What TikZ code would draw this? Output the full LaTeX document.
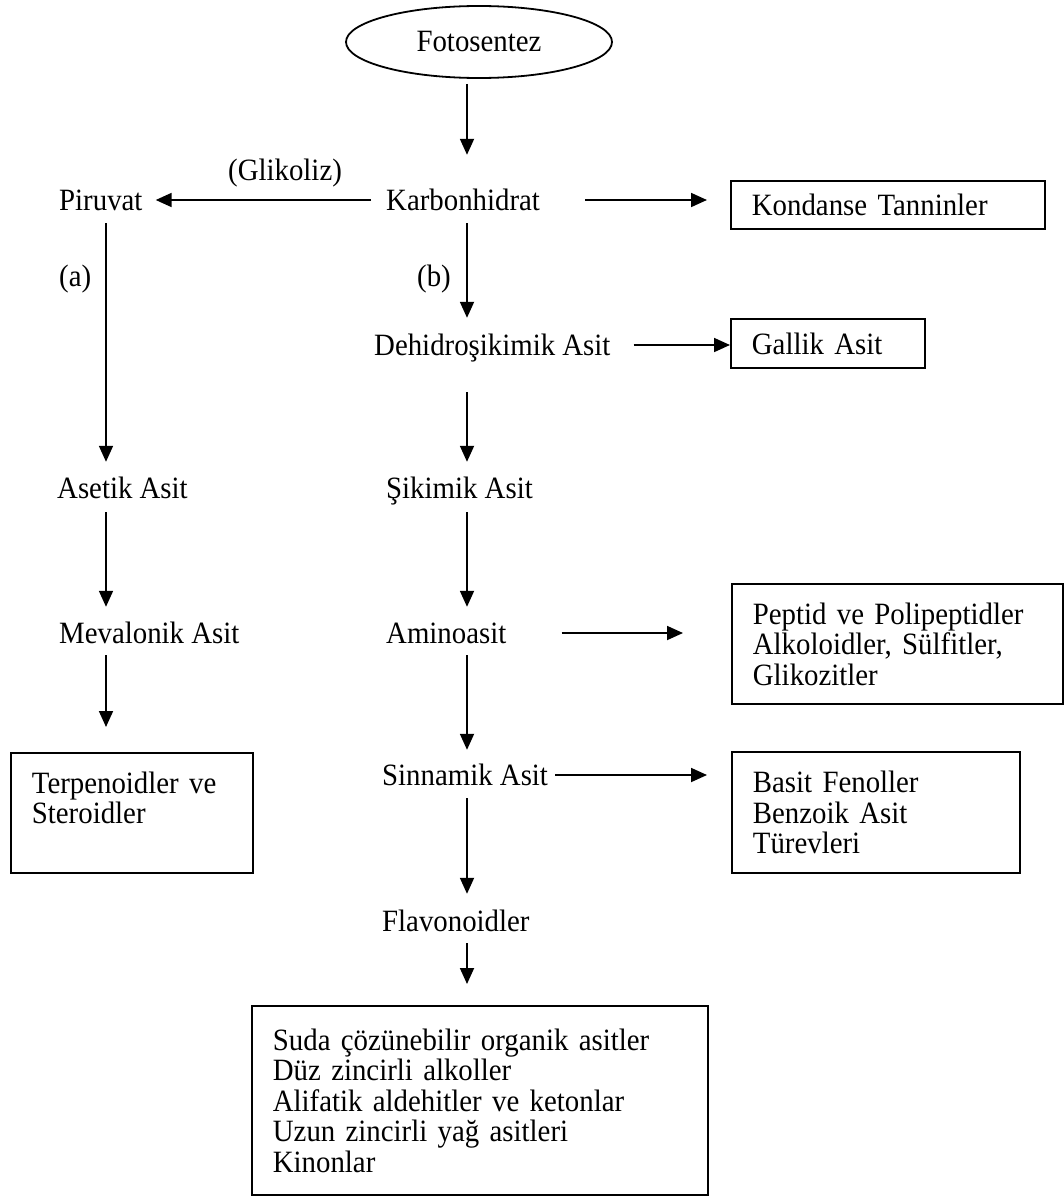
\documentclass[tikz,border=0pt]{standalone}
\usepackage{fontspec}
\setmainfont[FakeStretch=0.93]{Liberation Serif}
\usetikzlibrary{arrows.meta,shapes.geometric}
\begin{document}
\begin{tikzpicture}[x=1pt,y=-1pt,
  font=\fontsize{31}{30.5}\selectfont,
  lbl/.style={inner sep=0pt,text height=20pt,text depth=0pt,anchor=base west},
  boxn/.style={draw,line width=1.8pt,inner xsep=21pt,inner ysep=0pt,align=left,anchor=north west},
  arr/.style={line width=1.8pt,-{Triangle[length=16pt,width=14pt]}}]
\useasboundingbox (0,0) rectangle (1064,1196);
\coordinate (colL) at (106,0);
\coordinate (colC) at (467,0);
% nodes
\node[draw,ellipse,line width=1.8pt,minimum width=266pt,minimum height=72pt,inner sep=0pt] (foto) at (479,42) {Fotosentez};
\node[lbl] (glik) at (228,180) {(Glikoliz)};
\node[lbl] (pir) at (59,210) {Piruvat};
\node[lbl] (karb) at (386,210) {Karbonhidrat};
\node[lbl] (la) at (59,286) {(a)};
\node[lbl] (lb) at (417,286) {(b)};
\node[lbl] (dehi) at (374,355) {Dehidroşikimik Asit};
\node[lbl] (aset) at (57,498) {Asetik Asit};
\node[lbl] (siki) at (386,498) {Şikimik Asit};
\node[lbl] (meva) at (59,643) {Mevalonik Asit};
\node[lbl] (amino) at (386,643) {Aminoasit};
\node[lbl] (sinn) at (382,785) {Sinnamik Asit};
\node[lbl] (flav) at (382,931) {Flavonoidler};
% boxes
\node[boxn,text width=272pt,minimum height=48pt] (kond) at (730,180) {Kondanse Tanninler};
\node[boxn,text width=152pt,minimum height=49pt] (gal) at (730,318) {Gallik Asit};
\node[boxn,text width=289pt,minimum height=120pt] (pep) at (731,583) {Peptid ve Polipeptidler\\Alkoloidler, Sülfitler,\\Glikozitler};
\node[boxn,text width=246pt,minimum height=121pt] (basit) at (731,751) {Basit Fenoller\\Benzoik Asit\\Türevleri};
\node[boxn,text width=200pt,minimum height=120pt] (terp) at (10,752) {Terpenoidler ve\\Steroidler\\\mbox{}};
\node[boxn,text width=414pt,minimum height=189pt] (bot) at (251,1005) {Suda çözünebilir organik asitler\\Düz zincirli alkoller\\Alifatik aldehitler ve ketonlar\\Uzun zincirli yağ asitleri\\Kinonlar};
% vertical arrows, centre column
\draw[arr,shorten <=5pt,shorten >=35pt] (foto.south -| colC) -- (karb.north -| colC);
\draw[arr,shorten <=13pt,shorten >=17pt] (karb.south -| colC) -- (dehi.north -| colC);
\draw[arr,shorten <=37pt,shorten >=16pt] (dehi.south -| colC) -- (siki.north -| colC);
\draw[arr,shorten <=14pt,shorten >=16pt] (siki.south -| colC) -- (amino.north -| colC);
\draw[arr,shorten <=12pt,shorten >=15pt] (amino.south -| colC) -- (sinn.north -| colC);
\draw[arr,shorten <=13pt,shorten >=17pt] (sinn.south -| colC) -- (flav.north -| colC);
\draw[arr,shorten <=12pt,shorten >=21pt] (flav.south -| colC) -- (bot.north -| colC);
% vertical arrows, left column
\draw[arr,shorten <=13pt,shorten >=16pt] (pir.south -| colL) -- (aset.north -| colL);
\draw[arr,shorten <=14pt,shorten >=16pt] (aset.south -| colL) -- (meva.north -| colL);
\draw[arr,shorten <=12pt,shorten >=25pt] (meva.south -| colL) -- (terp.north -| colL);
% horizontal arrows
\draw[arr,shorten <=15pt,shorten >=13pt] (karb.west) -- (pir.east);
\draw[arr,shorten <=45pt,shorten >=23pt] (karb.east) -- (karb.east -| kond.west);
\draw[arr,shorten <=23pt,shorten >=0pt] (dehi.east) -- (dehi.east -| gal.west);
\draw[arr,shorten <=55pt,shorten >=48pt] (amino.east) -- (amino.east -| pep.west);
\draw[arr,shorten <=7pt,shorten >=24pt] (sinn.east) -- (sinn.east -| basit.west);
\end{tikzpicture}
\end{document}
